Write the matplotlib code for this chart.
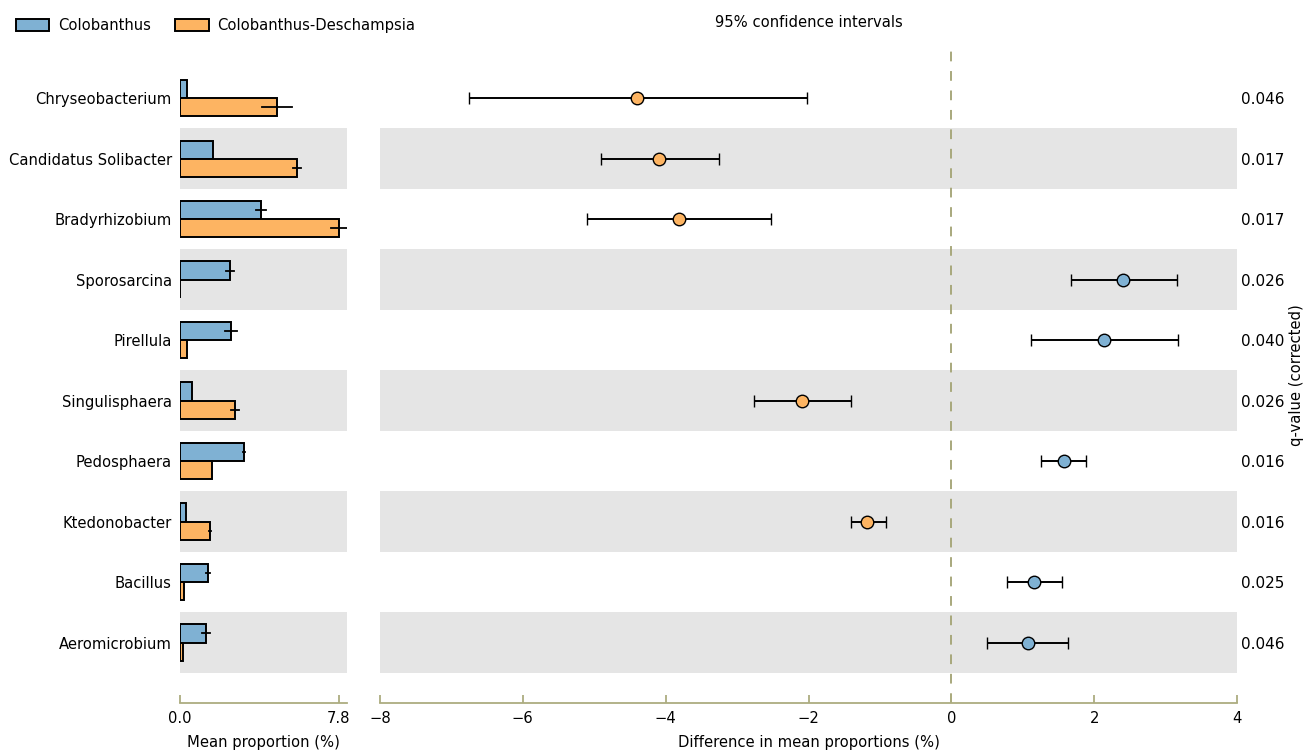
import matplotlib
matplotlib.use("Agg")
import matplotlib.pyplot as plt
from matplotlib.patches import Patch
import numpy as np

plt.rcParams['font.family'] = ['DejaVu Sans']

features = ["Chryseobacterium", "Candidatus Solibacter", "Bradyrhizobium", "Sporosarcina",
            "Pirellula", "Singulisphaera", "Pedosphaera", "Ktedonobacter", "Bacillus",
            "Aeromicrobium"]
group1 = "Colobanthus"
group2 = "Colobanthus-Deschampsia"
mean1 = [0.34, 1.60, 3.97, 2.45, 2.50, 0.60, 3.14, 0.27, 1.37, 1.27]
err1 = [0.0, 0.0, 0.25, 0.20, 0.30, 0.0, 0.05, 0.0, 0.10, 0.20]
mean2 = [4.75, 5.73, 7.80, 0.0, 0.34, 2.70, 1.57, 1.47, 0.20, 0.17]
err2 = [0.73, 0.20, 0.40, 0.0, 0.0, 0.20, 0.0, 0.05, 0.0, 0.0]
diff = [-4.40, -4.09, -3.81, 2.41, 2.14, -2.09, 1.58, -1.18, 1.16, 1.08]
ci_low = [-6.76, -4.91, -5.10, 1.67, 1.11, -2.77, 1.26, -1.41, 0.78, 0.50]
ci_high = [-2.02, -3.25, -2.53, 3.16, 3.18, -1.40, 1.89, -0.92, 1.55, 1.64]
qvalues = ["0.046", "0.017", "0.017", "0.026", "0.040", "0.026", "0.016", "0.016", "0.025", "0.046"]

c1 = "#7fb1d3"
c2 = "#fdb462"
axis_col = "#adad80"
band_col = "#e5e5e5"
W, H = 1308, 750
fs = 10.6

fig = plt.figure(figsize=(W / 100, H / 100), dpi=100)
bottom = (H - 703) / H
height = (703 - 48) / H
axL = fig.add_axes([180 / W, bottom, 167 / W, height])
axR = fig.add_axes([380 / W, bottom, 857 / W, height])

n = len(features)
y = np.arange(n)
ylim = (10.0, -0.83)

for ax in (axL, axR):
    for i in range(n):
        if i % 2 == 1:
            ax.axhspan(i - 0.5, i + 0.5, color=band_col, lw=0, zorder=0)
    ax.set_ylim(*ylim)
    for s in ("top", "left", "right"):
        ax.spines[s].set_visible(False)
    ax.spines["bottom"].set_color(axis_col)
    ax.spines["bottom"].set_linewidth(1.3)
    ax.tick_params(axis="x", direction="in", color=axis_col, length=6, width=1.3,
                   labelsize=fs, pad=6)
    ax.tick_params(axis="y", length=0)

# left: mean proportions
bh = 0.3
axL.barh(y - bh / 2, mean1, height=bh, color=c1, edgecolor="black", lw=1.4, zorder=2)
axL.barh(y + bh / 2, mean2, height=bh, color=c2, edgecolor="black", lw=1.4, zorder=2)
for i in range(n):
    if err1[i] > 0:
        axL.plot([mean1[i] - err1[i], mean1[i] + err1[i]], [y[i] - bh / 2] * 2, color="black", lw=1.3, zorder=3)
    if err2[i] > 0:
        axL.plot([mean2[i] - err2[i], mean2[i] + err2[i]], [y[i] + bh / 2] * 2, color="black", lw=1.3, zorder=3)
axL.set_xlim(0, 7.8 * 167 / 159)
axL.set_xticks([0.0, 7.8])
axL.set_xticklabels(["0.0", "7.8"])
axL.set_yticks(y)
axL.set_yticklabels(features, fontsize=fs)
axL.tick_params(axis="y", pad=6)
axL.set_xlabel("Mean proportion (%)", fontsize=fs, labelpad=6)

# right: differences
axR.set_xlim(-8, 4)
axR.set_xticks([-8, -6, -4, -2, 0, 2, 4])
axR.set_yticks([])
axR.axvline(0, color="#a8a87c", ls=(0, (5, 5)), lw=1.4, zorder=1)
for i in range(n):
    col = c2 if diff[i] < 0 else c1
    axR.errorbar(diff[i], y[i], xerr=[[diff[i] - ci_low[i]], [ci_high[i] - diff[i]]],
                 fmt="o", color="black", ecolor="black", elinewidth=1.4, capsize=4.3,
                 capthick=1.4, markersize=9, markerfacecolor=col, markeredgecolor="black",
                 markeredgewidth=1.0, zorder=3)
axR.set_xlabel("Difference in mean proportions (%)", fontsize=fs, labelpad=6)
axR.set_title("95% confidence intervals", fontsize=fs, pad=15)

# q-values
axQ = axR.twinx()
axQ.set_ylim(*ylim)
axQ.set_yticks(y)
axQ.set_yticklabels(qvalues, fontsize=11)
axQ.tick_params(axis="y", length=0, pad=3)
for s in axQ.spines.values():
    s.set_visible(False)
axQ.set_ylabel("q-value (corrected)", fontsize=fs, labelpad=3)

handles = [Patch(facecolor=c1, edgecolor="black", lw=1.4, label=group1),
           Patch(facecolor=c2, edgecolor="black", lw=1.4, label=group2)]
fig.legend(handles=handles, loc="upper left", bbox_to_anchor=(0.004, 0.99), ncol=2,
           frameon=False, fontsize=fs, handlelength=2.3, handleheight=0.9,
           columnspacing=1.6, handletextpad=0.6, borderaxespad=0.3)

fig.savefig("out.png", dpi=100)
